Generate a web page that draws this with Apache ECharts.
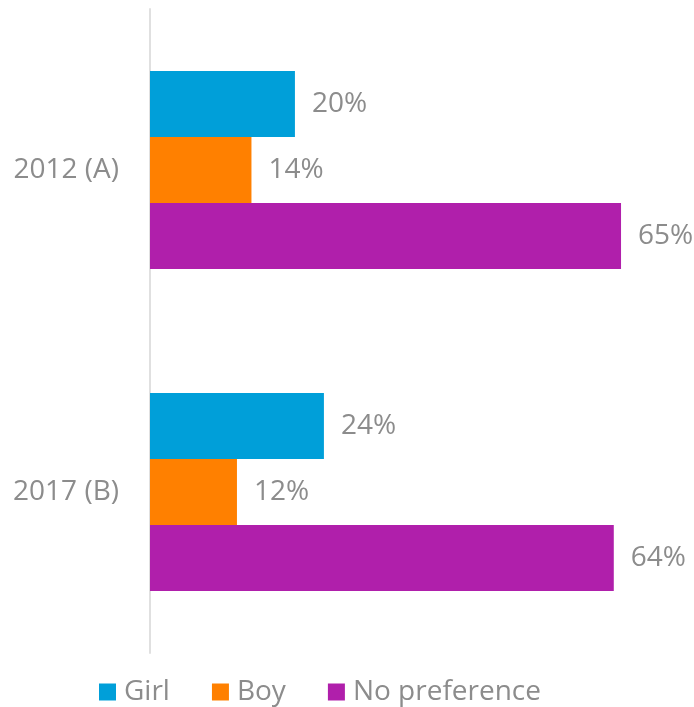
<!DOCTYPE html>
<html><head><meta charset="utf-8">
<script src="https://cdn.jsdelivr.net/npm/echarts@6/dist/echarts.min.js"></script>
<style>html,body{margin:0;padding:0;background:#fff}#c{width:694px;height:707px}</style>
</head><body><div id="c"></div>
<script>
const categories = ['2012 (A)', '2017 (B)'];
const seriesNames = ['Girl', 'Boy', 'No preference'];
const girl = [20, 24];
const boy = [14, 12];
const noPref = [65, 64];
const colors = ['#009FD9', '#FF8000', '#B01FAB'];
const values = [girl, boy, noPref];
const txt = '#8C8C8C';
const font = 'Open Sans';
const chart = echarts.init(document.getElementById('c'));
chart.setOption({
  animation: false,
  color: colors,
  textStyle: {fontFamily: font},
  grid: {left: 150, top: 9, width: 543.5, height: 644, containLabel: false},
  xAxis: {type: 'value', min: 0, max: 75, show: false},
  yAxis: {
    type: 'category', data: categories, inverse: true,
    axisLine: {lineStyle: {color: '#E0E0E0', width: 2}},
    axisTick: {show: false},
    axisLabel: {color: txt, fontSize: 28, fontFamily: font, margin: 31}
  },
  legend: {
    top: 673, left: 94, itemWidth: 17, itemHeight: 17, itemGap: 42,
    icon: 'rect',
    textStyle: {color: txt, fontSize: 28, fontFamily: font, padding: [0,0,0,3]},
    data: seriesNames
  },
  series: seriesNames.map((n, i) => ({
    name: n, type: 'bar', data: values[i], barGap: '0%', barCategoryGap: '38.5%',
    itemStyle: {color: colors[i]},
    label: {show: true, position: 'right', distance: 17, formatter: '{c}%', color: txt, fontSize: 28, fontFamily: font}
  }))
});
</script></body></html>
